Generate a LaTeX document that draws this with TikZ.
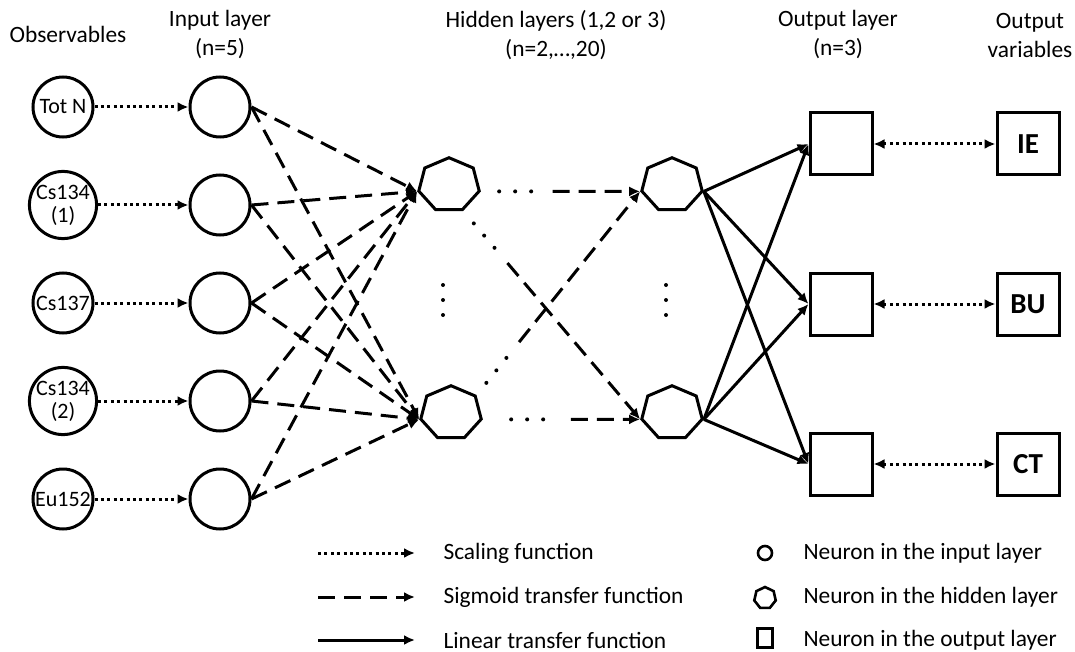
\documentclass[tikz,border=0pt]{standalone}
\usepackage{fontspec}
\setmainfont{Carlito}
\usetikzlibrary{shapes.geometric,arrows.meta,calc}

\tikzset{
  head/.tip={Latex[length=11pt,width=10pt]},
  obsnode/.style={circle, draw, line width=3pt, minimum size=60pt, inner sep=0pt, align=center, font=\fontsize{22}{23}\selectfont},
  innode/.style={circle, draw, line width=3pt, minimum size=60pt, inner sep=0pt},
  hidnode/.style={regular polygon, regular polygon sides=7, draw, line width=3pt, minimum size=62pt, inner sep=0pt, yscale=0.88, transform shape},
  outnode/.style={rectangle, draw, line width=3pt, minimum size=62pt, inner sep=0pt, font=\fontsize{29}{30}\selectfont\bfseries},
  header/.style={align=center, font=\fontsize{23.4}{29}\selectfont},
  legtext/.style={anchor=west, font=\fontsize{23.4}{28}\selectfont},
  scaling/.style={line width=3pt, dash pattern=on 3pt off 3.4pt, -head},
  sigmoid/.style={line width=3pt, dash pattern=on 17pt off 9pt, -head},
  linear/.style={line width=3pt, -head},
  skipdots/.style={line width=4pt, line cap=round, dash pattern=on 0pt off 16pt},
  vdots/.style={line width=4pt, line cap=round, dash pattern=on 0pt off 15pt},
}

\begin{document}
\begin{tikzpicture}[x=1pt, y=-1pt]
  \useasboundingbox (0,0) rectangle (1075,652);
  % headers
  \node[header] (hObs) at (68,34) {Observables};
  \node[header] (hIn) at (220,35) {Input layer\\(n=5)};
  \node[header] (hHid) at (556,35) {Hidden layers (1,2 or 3)\\(n=2,\dots,20)};
  \node[header] (hOut) at (838,35) {Output layer\\(n=3)};
  \node[header] (hVar) at (1030,35) {Output\\variables};
  % observables
  \node[obsnode] (obs1) at (63,107) {Tot N};
  \node[obsnode] (obs2) at (63,205) {Cs134\\(1)};
  \node[obsnode] (obs3) at (63,303) {Cs137};
  \node[obsnode] (obs4) at (63,401) {Cs134\\(2)};
  \node[obsnode] (obs5) at (63,499) {Eu152};
  % input layer
  \node[innode] (in1) at (220,107) {};
  \node[innode] (in2) at (220,205) {};
  \node[innode] (in3) at (220,303) {};
  \node[innode] (in4) at (220,401) {};
  \node[innode] (in5) at (220,499) {};
  % hidden layers
  \node[hidnode] (hl1) at (449,185) {};
  \node[hidnode] (hl2) at (451,413) {};
  \node[hidnode] (hr1) at (672,185) {};
  \node[hidnode] (hr2) at (672,413) {};
  % output layer and variables
  \node[outnode] (out1) at (841,144) {};
  \node[outnode] (out2) at (841,304) {};
  \node[outnode] (out3) at (841,464) {};
  \node[outnode] (var1) at (1028,144) {IE};
  \node[outnode] (var2) at (1028,304) {BU};
  \node[outnode] (var3) at (1028,464) {CT};
  % scaling
  \draw[scaling] (obs1.east) -- (in1.west);
  \draw[scaling] (obs2.east) -- (in2.west);
  \draw[scaling] (obs3.east) -- (in3.west);
  \draw[scaling] (obs4.east) -- (in4.west);
  \draw[scaling] (obs5.east) -- (in5.west);
  \draw[scaling, head-head] (out1.east) -- (var1.west);
  \draw[scaling, head-head] (out2.east) -- (var2.west);
  \draw[scaling, head-head] (out3.east) -- (var3.west);
  % sigmoid, input to hidden
  \draw[sigmoid] (in1.east) -- (hl1.corner 3);
  \draw[sigmoid] (in1.east) -- (hl2.corner 3);
  \draw[sigmoid] (in2.east) -- (hl1.corner 3);
  \draw[sigmoid] (in2.east) -- (hl2.corner 3);
  \draw[sigmoid] (in3.east) -- (hl1.corner 3);
  \draw[sigmoid] (in3.east) -- (hl2.corner 3);
  \draw[sigmoid] (in4.east) -- (hl1.corner 3);
  \draw[sigmoid] (in4.east) -- (hl2.corner 3);
  \draw[sigmoid] (in5.east) -- (hl1.corner 3);
  \draw[sigmoid] (in5.east) -- (hl2.corner 3);
  % hidden to hidden (skipped layers)
  \draw[skipdots] ($(hl1.corner 6)!.115!(hr1.corner 3)$) -- ($(hl1.corner 6)!.32!(hr1.corner 3)$);
  \draw[sigmoid] ($(hl1.corner 6)!.45!(hr1.corner 3)$) -- (hr1.corner 3);
  \draw[skipdots] ($(hl1.corner 5)!.06!(hr2.corner 3)$) -- ($(hl1.corner 5)!.185!(hr2.corner 3)$);
  \draw[sigmoid] ($(hl1.corner 5)!.25!(hr2.corner 3)$) -- (hr2.corner 3);
  \draw[skipdots] ($(hl2.corner 7)!.06!(hr1.corner 3)$) -- ($(hl2.corner 7)!.185!(hr1.corner 3)$);
  \draw[sigmoid] ($(hl2.corner 7)!.26!(hr1.corner 3)$) -- (hr1.corner 3);
  \draw[skipdots] ($(hl2.corner 6)!.18!(hr2.corner 3)$) -- ($(hl2.corner 6)!.39!(hr2.corner 3)$);
  \draw[sigmoid] ($(hl2.corner 6)!.56!(hr2.corner 3)$) -- (hr2.corner 3);
  \draw[vdots] (443,285) -- (443,317);
  \draw[vdots] (666,285) -- (666,317);
  % linear, hidden to output
  \draw[linear] (hr1.corner 6) -- (out1.west);
  \draw[linear] (hr1.corner 6) -- (out2.west);
  \draw[linear] (hr1.corner 6) -- (out3.west);
  \draw[linear] (hr2.corner 6) -- (out1.west);
  \draw[linear] (hr2.corner 6) -- (out2.west);
  \draw[linear] (hr2.corner 6) -- (out3.west);
  % legend
  \coordinate (ls1) at (318,553);
  \coordinate (le1) at (415,553);
  \coordinate (ls2) at (318,597);
  \coordinate (le2) at (415,597);
  \coordinate (ls3) at (318,640);
  \coordinate (le3) at (415,640);
  \draw[scaling] (ls1) -- (le1);
  \draw[sigmoid] (ls2) -- (le2);
  \draw[linear] (ls3) -- (le3);
  \node[legtext] (lt1) at (440,553) {Scaling function};
  \node[legtext] (lt2) at (440,597) {Sigmoid transfer function};
  \node[legtext] (lt3) at (440,640) {Linear transfer function};
  \node[circle, draw, line width=2.6pt, minimum size=14pt, inner sep=0pt] (lc) at (765,553) {};
  \node[regular polygon, regular polygon sides=7, draw, line width=2.6pt, minimum size=22pt, inner sep=0pt] (lh) at (765,598) {};
  \node[rectangle, draw, line width=2.6pt, minimum width=15pt, minimum height=19pt, inner sep=0pt] (lq) at (765,638) {};
  \node[legtext] (lt4) at (800,553) {Neuron in the input layer};
  \node[legtext] (lt5) at (800,597) {Neuron in the hidden layer};
  \node[legtext] (lt6) at (800,640) {Neuron in the output layer};
\end{tikzpicture}
\end{document}
